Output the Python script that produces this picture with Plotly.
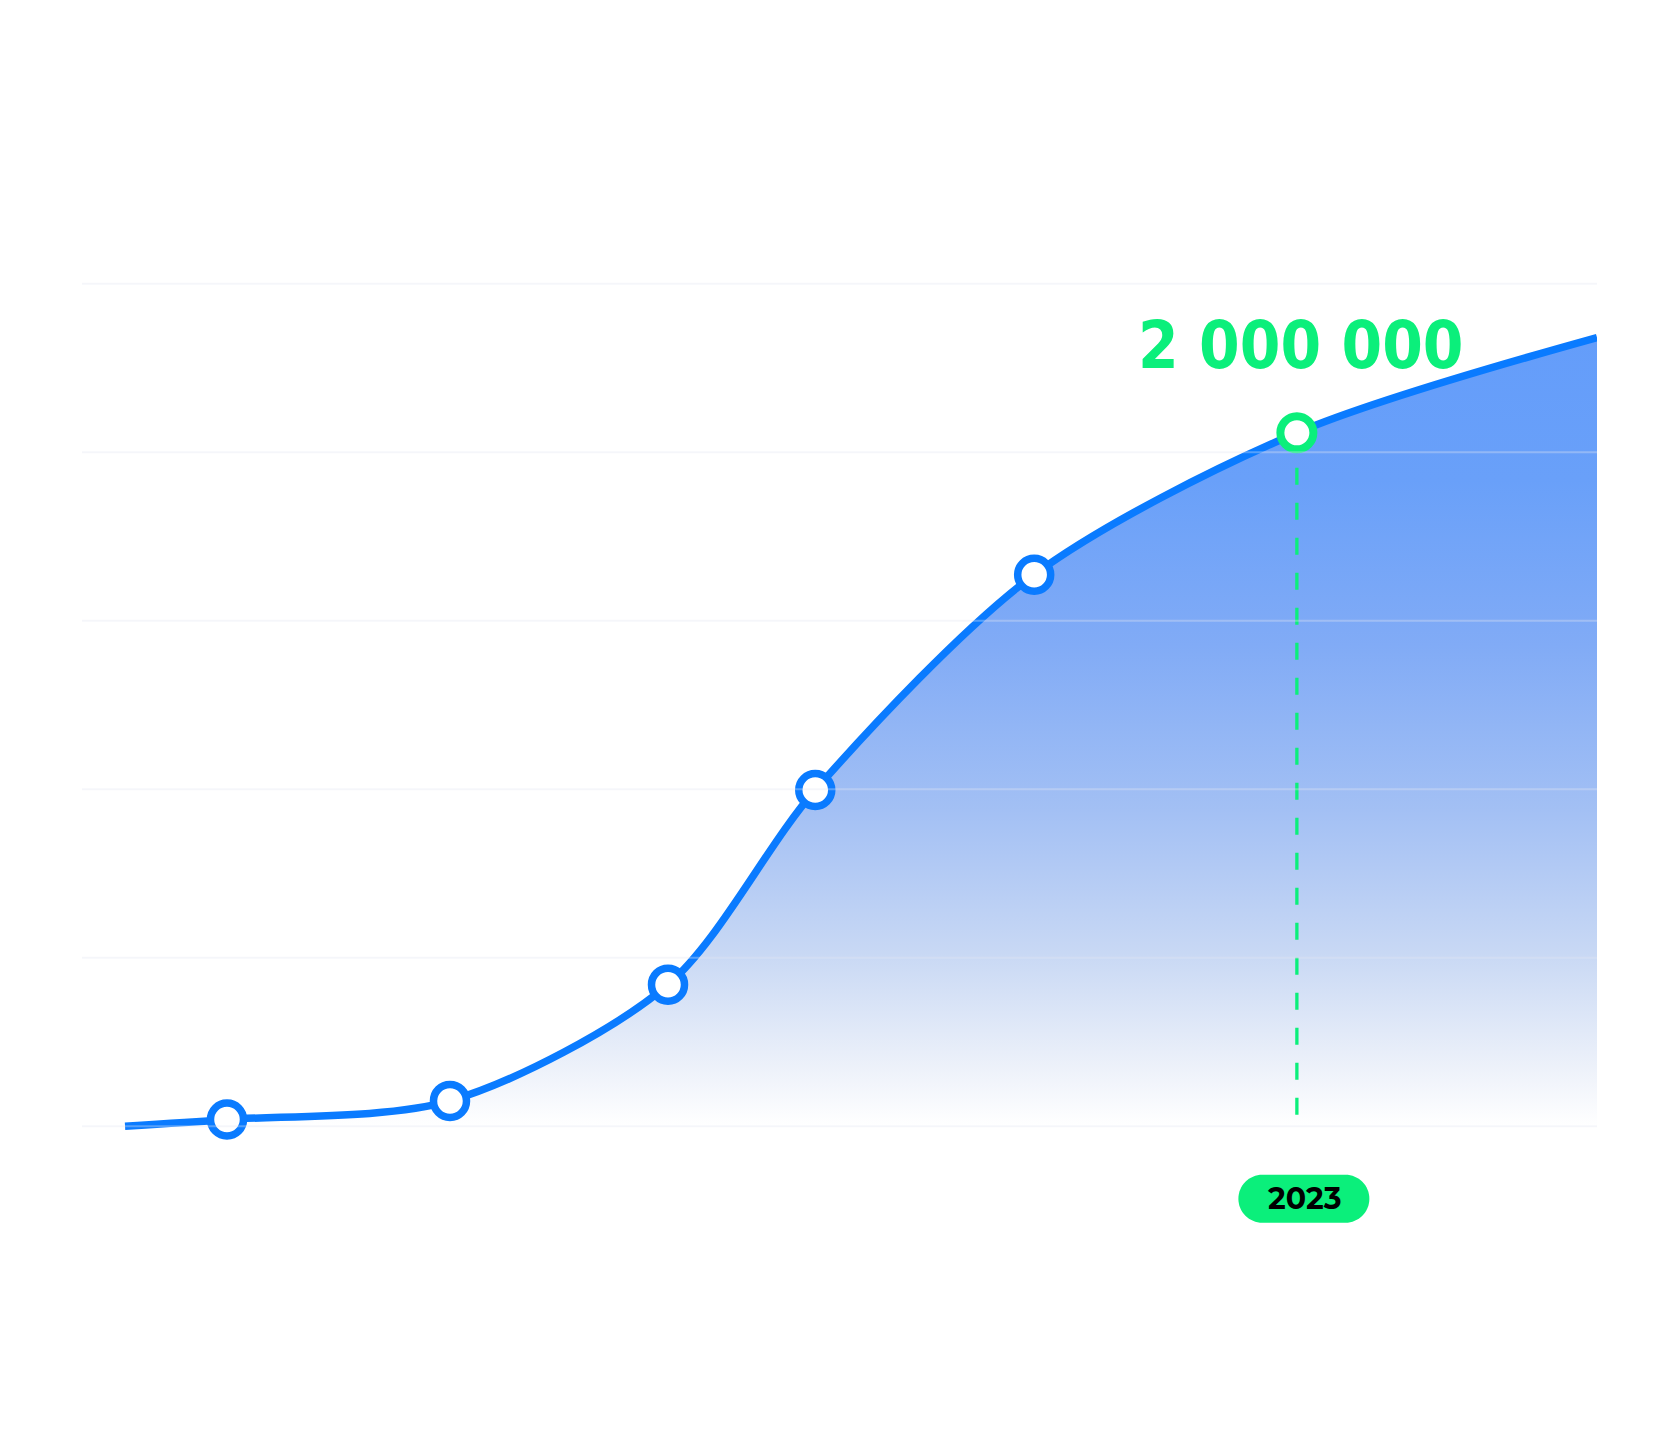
import plotly.graph_objects as go

# ---- data (x on a 0-100 position scale, y in grid units) ----
line_x = [2.84, 9.57, 24.29, 38.68, 48.40, 62.85, 80.19, 100.0]
line_y = [0.00, 0.04, 0.15, 0.84, 1.995, 3.273, 4.115, 4.68]

point_x = [9.57, 24.29, 38.68, 48.40, 62.85]
point_y = [0.04, 0.15, 0.84, 1.995, 3.273]

highlight_x = 80.19
highlight_y = 4.115
highlight_value = "2 000 000"
highlight_year = "2023"
dash_bottom = 0.06

grid_values = [0, 1, 2, 3, 4, 5]

BLUE = "#0A7BFF"
GREEN = "#0BEF7B"

fig = go.Figure()

# filled curve
fig.add_trace(go.Scatter(
    x=line_x, y=line_y, mode="lines",
    line=dict(color=BLUE, width=7.5, shape="spline", smoothing=0.85),
    fill="tozeroy",
    fillgradient=dict(
        type="vertical", start=0, stop=max(line_y),
        colorscale=[
            [0.0, "rgba(255,255,255,1)"],
            [0.07, "#eef2fa"],
            [0.22, "#c8d8f4"],
            [0.40, "#a3c0f4"],
            [0.61, "#81abf6"],
            [0.82, "#69a0f9"],
            [1.0, "#649dfa"],
        ],
    ),
    hoverinfo="skip", showlegend=False,
))

# dashed green guide
fig.add_trace(go.Scatter(
    x=[highlight_x, highlight_x], y=[highlight_y, dash_bottom], mode="lines",
    line=dict(color=GREEN, width=3.3, dash="17px,18px"),
    hoverinfo="skip", showlegend=False,
))

# blue markers
fig.add_trace(go.Scatter(
    x=point_x, y=point_y, mode="markers",
    marker=dict(size=33, color="white", line=dict(color=BLUE, width=7.5)),
    hoverinfo="skip", showlegend=False,
))

# green highlight marker
fig.add_trace(go.Scatter(
    x=[highlight_x], y=[highlight_y], mode="markers",
    marker=dict(size=33, color="white", line=dict(color=GREEN, width=8)),
    hoverinfo="skip", showlegend=False,
))

# gridlines drawn above the fill
shapes = []
for g in grid_values:
    shapes.append(dict(
        type="line", xref="x", yref="y", x0=0, x1=100, y0=g, y1=g,
        line=dict(color="rgba(225,230,240,0.35)", width=2), layer="above",
    ))

# pill behind year label (offset 7px right of the guide)
k = 0.5523 * 24
cx = 7
pill = (f"M {cx-41.5},24 L {cx+41.5},24 C {cx+41.5+k},24 {cx+65.5},{k} {cx+65.5},0 "
        f"C {cx+65.5},{-k} {cx+41.5+k},-24 {cx+41.5},-24 L {cx-41.5},-24 "
        f"C {cx-41.5-k},-24 {cx-65.5},{-k} {cx-65.5},0 C {cx-65.5},{k} {cx-41.5-k},24 {cx-41.5},24 Z")
shapes.append(dict(
    type="path", xref="x", yref="y", xsizemode="pixel", ysizemode="pixel",
    xanchor=highlight_x, yanchor=-0.43, path=pill,
    fillcolor=GREEN, line=dict(width=0), layer="above",
))

annotations = [
    dict(x=highlight_x, y=highlight_y, xref="x", yref="y",
         text=highlight_value, showarrow=False, xanchor="center", yanchor="middle",
         xshift=4, yshift=87,
         font=dict(family="DejaVu Sans Condensed, sans-serif",
                   size=65, color=GREEN, weight="bold")),
    dict(x=highlight_x, y=-0.43, xref="x", yref="y",
         text=f"<b>{highlight_year}</b>", showarrow=False, xanchor="center", yanchor="middle",
         xshift=8,
         font=dict(family="Montserrat, Open Sans, sans-serif", size=30, color="black")),
]

# page body has an 8px default margin; size the figure to sit in the window
fig.update_layout(
    width=1664, height=1418,
    margin=dict(l=74, r=75, t=242, b=165, autoexpand=False),
    paper_bgcolor="white", plot_bgcolor="white",
    xaxis=dict(range=[0, 100], visible=False, fixedrange=True),
    yaxis=dict(range=[-0.8, 5.2], visible=False, fixedrange=True),
    shapes=shapes, annotations=annotations,
    showlegend=False,
)

fig.write_html("out.html", config={"displayModeBar": False})
